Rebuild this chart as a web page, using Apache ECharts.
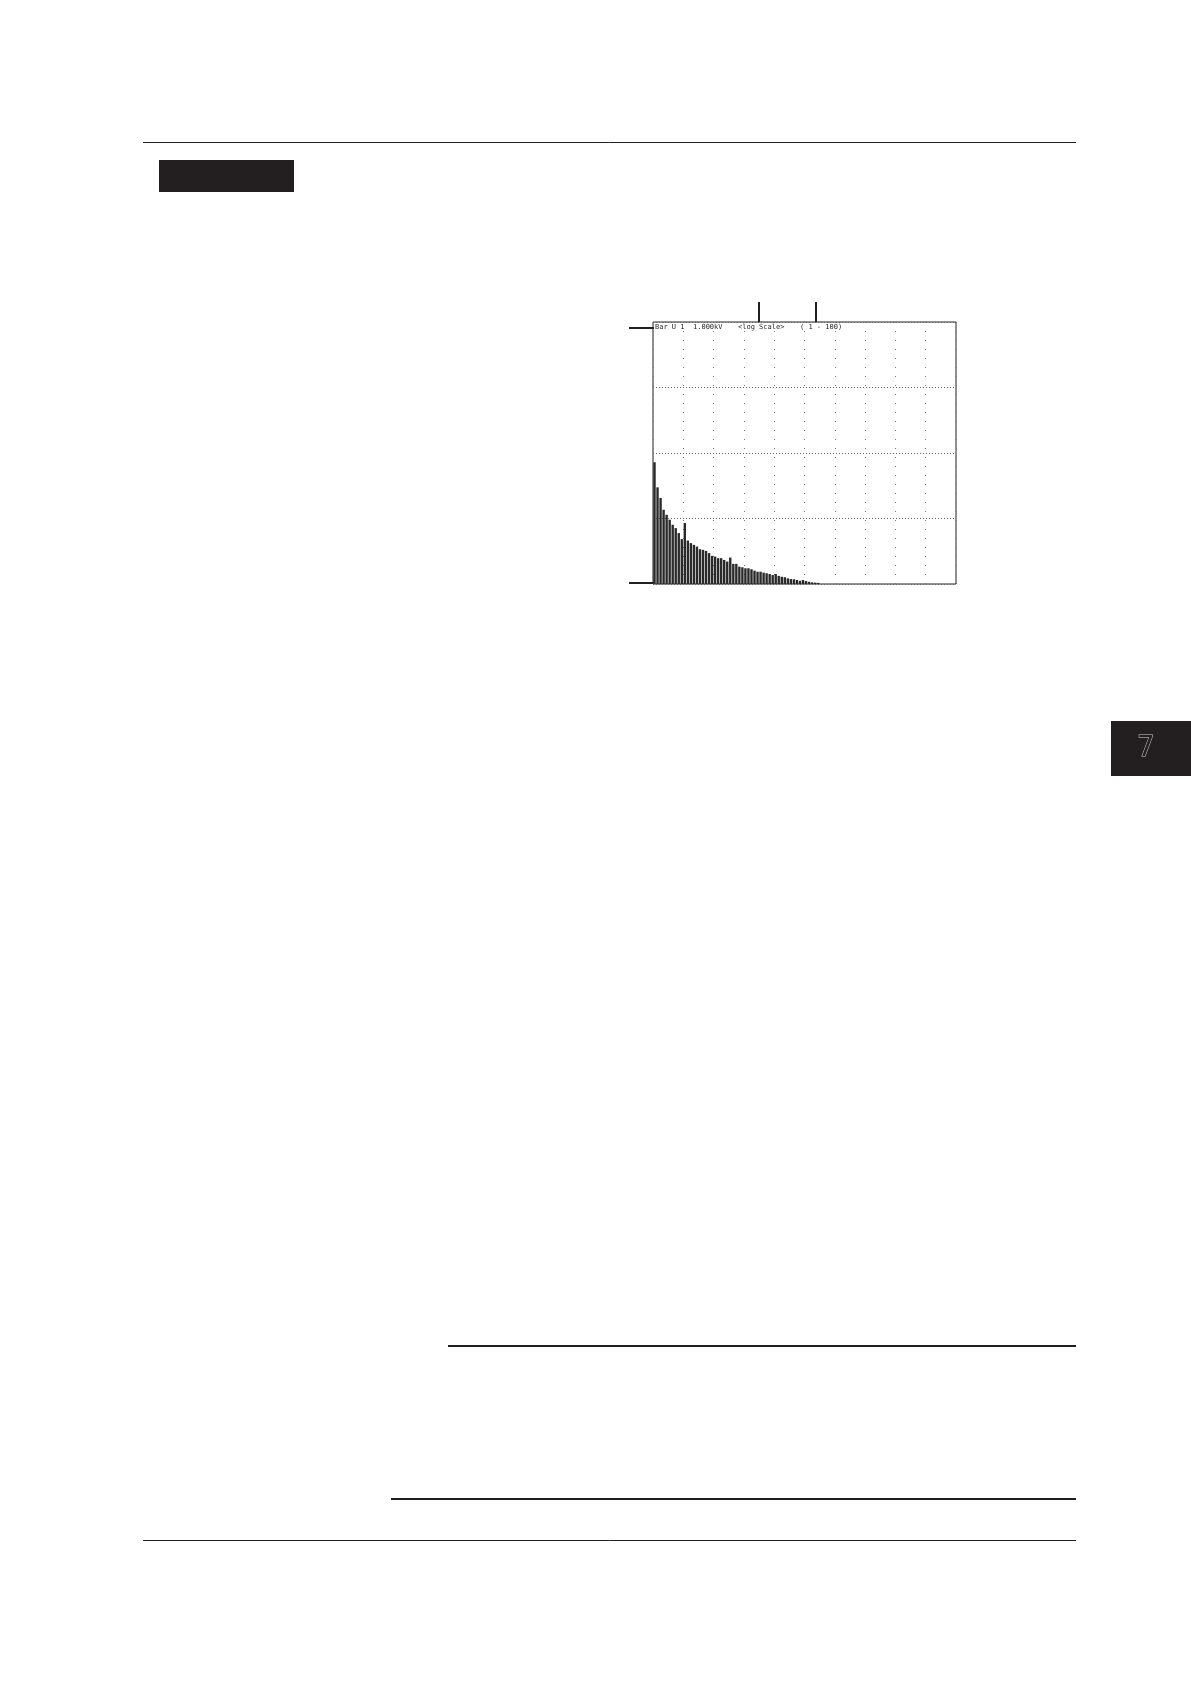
<!DOCTYPE html>
<html>
<head>
<meta charset="utf-8">
<script src="https://cdn.jsdelivr.net/npm/echarts@6/dist/echarts.min.js"></script>
<style>
html,body{margin:0;padding:0;background:#fff;}
#chart{width:1191px;height:1684px;}
</style>
</head>
<body>
<div id="chart"></div>
<script>
// Harmonic orders 1..100
const orders = Array.from({length: 100}, (_, i) => String(i + 1));
// Harmonic amplitudes (V, log scale); orders beyond 55 are below the display floor
const amplitudes = [
  72.3, 29.9, 20.6, 13.6, 11.4, 9.57, 8.02, 7.14, 5.99, 4.84,
  8.52, 4.61, 4.21, 3.96, 3.73, 3.40, 3.32, 3.20, 2.96, 2.69,
  2.62, 2.48, 2.48, 2.33, 2.20, 2.53, 2.03, 2.03, 1.84, 1.80,
  1.74, 1.74, 1.68, 1.60, 1.54, 1.54, 1.49, 1.46, 1.42, 1.37,
  1.42, 1.33, 1.29, 1.27, 1.22, 1.19, 1.18, 1.15, 1.12, 1.15,
  1.11, 1.08, 1.06, 1.05, 1.04
];
const seriesValues = orders.map((_, i) => (i < amplitudes.length ? amplitudes[i] : null));
// Header texts drawn inside the screen
const headerLabels = ['Bar U 1', '1.000kV', '<log Scale>', '( 1 - 100)'];

const chart = echarts.init(document.getElementById('chart'), null, {renderer: 'canvas'});

const G = {left: 653, top: 322, width: 303, height: 262};
const dark = '#231f20';
const mono = '"DejaVu Sans Mono", "Liberation Mono", monospace';

const graphics = [
  // top page rule
  {type: 'line', shape: {x1: 143, y1: 142.5, x2: 1076, y2: 142.5}, style: {stroke: dark, lineWidth: 1}},
  // black section box
  {type: 'rect', shape: {x: 159, y: 160, width: 135, height: 32}, style: {fill: dark}},
  // right chapter tab
  {type: 'rect', shape: {x: 1111, y: 721, width: 80, height: 55}, style: {fill: dark}},
  {type: 'text', x: 1146, y: 749, style: {text: '7', fill: dark, stroke: '#cfcfcf', lineWidth: 1,
    font: '28px "DejaVu Sans", sans-serif', align: 'center', verticalAlign: 'middle'}},
  // lower rules
  {type: 'line', shape: {x1: 448, y1: 1346, x2: 1076, y2: 1346}, style: {stroke: dark, lineWidth: 2}},
  {type: 'line', shape: {x1: 391, y1: 1499, x2: 1076, y2: 1499}, style: {stroke: dark, lineWidth: 2}},
  {type: 'line', shape: {x1: 143, y1: 1540.5, x2: 1076, y2: 1540.5}, style: {stroke: dark, lineWidth: 1}},
  // callout leaders
  {type: 'line', shape: {x1: 759, y1: 302, x2: 759, y2: 322}, style: {stroke: dark, lineWidth: 2}},
  {type: 'line', shape: {x1: 816, y1: 302, x2: 816, y2: 322}, style: {stroke: dark, lineWidth: 2}},
  {type: 'line', shape: {x1: 629, y1: 328, x2: 654, y2: 328}, style: {stroke: dark, lineWidth: 2}},
  {type: 'line', shape: {x1: 629, y1: 583, x2: 654, y2: 583}, style: {stroke: dark, lineWidth: 2}}
];
const headerX = [655, 693, 738, 800];
headerLabels.forEach((t, i) => {
  graphics.push({type: 'text', x: headerX[i], y: 324, z: 10,
    style: {text: t, fill: dark, font: '7px ' + mono, textVerticalAlign: 'top'}});
});

chart.setOption({
  animation: false,
  backgroundColor: '#fff',
  grid: {left: G.left, top: G.top, width: G.width, height: G.height, show: true,
    borderColor: dark, borderWidth: 1, containLabel: false},
  xAxis: [
    {type: 'category', data: orders, boundaryGap: true,
      axisLine: {show: false}, axisTick: {show: false}, axisLabel: {show: false}, splitLine: {show: false}},
    {type: 'value', min: 0, max: 10, interval: 1, position: 'top',
      axisLine: {show: false}, axisTick: {show: false}, axisLabel: {show: false},
      splitLine: {show: true, lineStyle: {color: '#777', width: 1, type: [1, 8]}}}
  ],
  yAxis: {type: 'log', logBase: 10, min: 1, max: 10000, splitNumber: 4,
    axisLine: {show: false}, axisTick: {show: false}, axisLabel: {show: false},
    splitLine: {show: true, lineStyle: {color: '#666', width: 1, type: [1, 2]}}},
  series: [{
    type: 'bar', xAxisIndex: 0, data: seriesValues, barWidth: 2.4,
    itemStyle: {color: '#2a2a2a'}, silent: true
  }],
  graphic: graphics
});
</script>
</body>
</html>
